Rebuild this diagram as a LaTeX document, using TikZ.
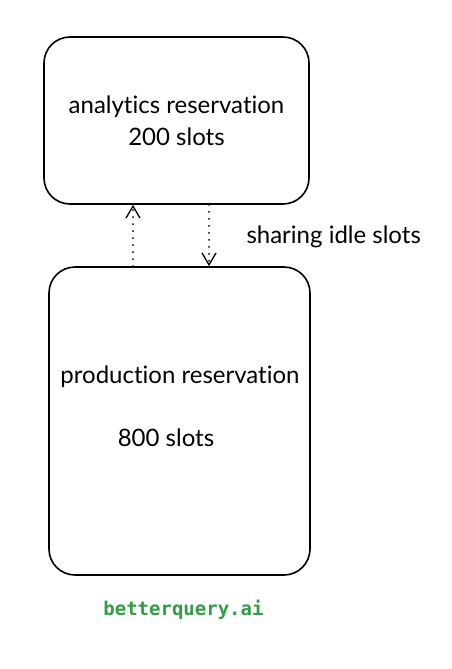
\documentclass[tikz,border=0pt]{standalone}
\usepackage{fontspec}
\setmainfont[Ligatures=CommonOff]{Lato}
\newfontfamily\handfont{DejaVu Sans Mono}
\usetikzlibrary{arrows.meta,positioning}
\definecolor{sketchgreen}{HTML}{2F9E44}

\begin{document}
\begin{tikzpicture}[x=1pt, y=-1pt,
  resbox/.style={rectangle, draw, line width=1.6pt, rounded corners=26pt,
    text centered, font=\fontsize{24}{32}\selectfont},
  lbl/.style={font=\fontsize{24}{28}\selectfont},
  arr/.style={line width=2pt, line cap=round, dash pattern=on 0pt off 7pt,
    -{Straight Barb[length=12pt, width=14pt, line width=1.3pt]}},
]
  \useasboundingbox (0,0) rectangle (451,669);

  \node[resbox, minimum width=265pt, minimum height=167pt, align=center] (analytics)
    at (176.5,120.5) {analytics reservation\\200 slots};
  \node[resbox, minimum width=261pt, minimum height=308pt] (production) at (179.5,421) {};

  \node[lbl] (prodname) at (180,377) {production reservation};
  \node[lbl] (prodslots) at (166,438) {800 slots};

  \coordinate (upx) at (133,0);
  \coordinate (downx) at (209,0);
  \draw[arr] (production.north -| upx) -- (analytics.south -| upx);
  \draw[arr] (analytics.south -| downx) -- (production.north -| downx);

  \node[lbl, anchor=west] (sharing) at (243,237) {sharing idle slots};

  \node[font=\handfont\bfseries\fontsize{19}{24}\selectfont, text=sketchgreen] (brand) at (183.5,610) {betterquery.ai};
\end{tikzpicture}
\end{document}
